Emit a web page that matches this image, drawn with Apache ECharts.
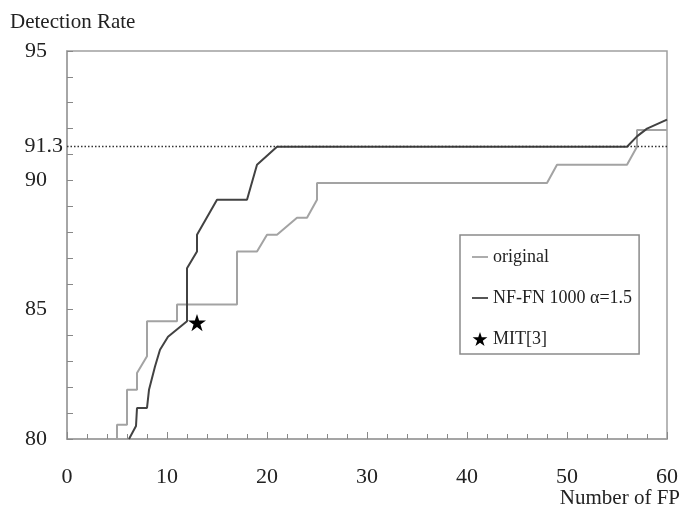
<!DOCTYPE html>
<html>
<head>
<meta charset="utf-8">
<script src="https://cdn.jsdelivr.net/npm/echarts@6/dist/echarts.min.js"></script>
<style>
  html, body { margin: 0; padding: 0; background: #fff; }
  #chart { width: 681px; height: 508px; }
</style>
</head>
<body>
<div id="chart"></div>
<script>
// curves: [number of FP, detection rate]
const originalData = [
  [5, 80], [5, 80.55], [6, 80.55], [6, 81.9], [7, 81.9], [7, 82.55], [8, 83.2],
  [8, 84.55], [11, 84.55], [11, 85.2], [17, 85.2], [17, 87.25], [19, 87.25],
  [20, 87.9], [21, 87.9], [23, 88.55], [24, 88.55], [25, 89.25], [25, 89.9],
  [48, 89.9], [49, 90.6], [56, 90.6], [57, 91.3], [57, 91.95], [60, 91.95]
];
const nffnData = [
  [6.2, 80], [6.9, 80.5], [7, 81.2], [8, 81.2], [8.2, 81.9], [8.8, 82.8],
  [9.3, 83.45], [10.1, 83.95], [12, 84.55], [12, 86.6], [13, 87.25], [13, 87.9],
  [15, 89.25], [18, 89.25], [19, 90.6], [21, 91.3], [56, 91.3], [57, 91.7],
  [58, 92], [60, 92.35]
];
const mitData = [[13, 84.5]];
const refRate = 91.3;
const yLabels = [80, 85, 90, 95];

const serif = 'Liberation Serif';
const star = 'path://M0,-10 L2.25,-3.09 L9.51,-3.09 L3.63,1.18 L5.88,8.09 L0,3.82 L-5.88,8.09 L-3.63,1.18 L-9.51,-3.09 L-2.25,-3.09 Z';
// thin bar in the middle of the icon box (the first two moves only set the box size)
const lineIcon = 'path://M0,0 M16,14 M0,6.1 L16,6.1 L16,7.9 L0,7.9 Z';

const chart = echarts.init(document.getElementById('chart'));

const option = {
  backgroundColor: '#fff',
  animation: false,
  title: [
    {
      text: 'Detection Rate',
      left: 5, top: 7,
      textStyle: { fontFamily: serif, fontSize: 21, fontWeight: 'normal', color: '#222' }
    },
    {
      text: 'Number of FP',
      right: 0, top: 488, padding: [0, 1, 0, 0],
      textStyle: { fontFamily: serif, fontSize: 21, fontWeight: 'normal', color: '#222' }
    }
  ],
  grid: {
    left: 67, right: 13, top: 51, bottom: 69,
    show: true, borderColor: '#a0a0a0', borderWidth: 1.5
  },
  legend: {
    orient: 'vertical',
    left: 460, top: 235,
    padding: [13, 7, 6, 12],
    itemGap: 23,
    itemWidth: 16, itemHeight: 14,
    borderColor: '#8a8a8a', borderWidth: 1.5,
    textStyle: { fontFamily: serif, fontSize: 18, color: '#222' },
    data: [
      { name: 'original', icon: lineIcon },
      { name: 'NF-FN 1000 α=1.5', icon: lineIcon },
      { name: 'MIT[3]' }
    ]
  },
  xAxis: {
    type: 'value',
    min: 0, max: 60, interval: 10,
    axisLine: { lineStyle: { color: '#a0a0a0', width: 1.5 } },
    axisTick: { inside: true, length: 7, lineStyle: { color: '#888' } },
    minorTick: { show: true, splitNumber: 5, length: 5, lineStyle: { color: '#888' } },
    splitLine: { show: false },
    axisLabel: { margin: 27, fontFamily: serif, fontSize: 22, color: '#222' }
  },
  yAxis: {
    type: 'value',
    min: 80, max: 95, interval: 5,
    axisLine: { show: true, lineStyle: { color: '#a0a0a0', width: 1.5 } },
    axisTick: { show: true, inside: true, length: 6, lineStyle: { color: '#888' } },
    minorTick: { show: true, splitNumber: 5, length: 6, lineStyle: { color: '#888' } },
    splitLine: { show: false },
    axisLabel: {
      margin: 20, fontFamily: serif, fontSize: 22, color: '#222',
      formatter: v => (yLabels.indexOf(v) >= 0 ? String(v) : '')
    }
  },
  series: [
    {
      name: 'original',
      type: 'line',
      data: originalData,
      symbol: 'none',
      lineStyle: { color: '#a3a3a3', width: 2 },
      itemStyle: { color: '#a3a3a3' },
      markLine: {
        silent: true,
        symbol: 'none',
        lineStyle: { color: '#333', type: [1.5, 2], width: 1.3 },
        label: {
          position: 'start', distance: 4, formatter: String(refRate),
          fontFamily: serif, fontSize: 22, color: '#222'
        },
        data: [{ yAxis: refRate }]
      }
    },
    {
      name: 'NF-FN 1000 α=1.5',
      type: 'line',
      data: nffnData,
      symbol: 'none',
      lineStyle: { color: '#424242', width: 2 },
      itemStyle: { color: '#424242' }
    },
    {
      name: 'MIT[3]',
      type: 'scatter',
      data: mitData,
      symbol: star,
      symbolSize: 18,
      symbolKeepAspect: true,
      itemStyle: { color: '#000', opacity: 1 }
    }
  ]
};

chart.setOption(option);
</script>
</body>
</html>
